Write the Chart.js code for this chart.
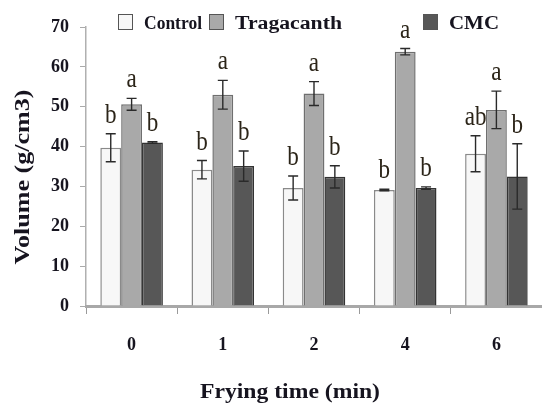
<!DOCTYPE html>
<html>
<head>
<meta charset="utf-8">
<script src="https://cdn.jsdelivr.net/npm/chart.js@4/dist/chart.umd.min.js"></script>
<style>
  html, body { margin: 0; padding: 0; background: #fff; overflow: hidden; }
  #wrap { width: 542px; height: 408px; }
</style>
</head>
<body>
<div id="wrap"><canvas id="volumeChart"></canvas></div>
<script>
// data
const fryingTimes = ['0', '1', '2', '4', '6'];
const seriesNames = ['Control', 'Tragacanth', 'CMC'];
const controlVals = [39.7, 34.2, 29.6, 29.1, 38.2];
const tragVals = [50.6, 53.0, 53.3, 63.8, 49.2];
const cmcVals = [41.0, 35.1, 32.4, 29.6, 32.5];
const controlErr = [3.5, 2.3, 3.0, 0.2, 4.5];
const tragErr = [1.5, 3.6, 3.0, 0.8, 4.7];
const cmcErr = [0.2, 3.8, 2.8, 0.3, 8.2];
const controlLetters = ['b', 'b', 'b', 'b', 'ab'];
const tragLetters = ['a', 'a', 'a', 'a', 'a'];
const cmcLetters = ['b', 'b', 'b', 'b', 'b'];
const yTicks = [0, 10, 20, 30, 40, 50, 60, 70];

const serif = '"Liberation Serif", "DejaVu Serif", serif';
const textCol = '#16141f';
const fills = ['#f7f7f7', '#a9a9a9', '#575757'];
const borders = ['#8a8a8a', '#6f6f6f', '#333333'];

const errs = [controlErr, tragErr, cmcErr];
const letters = [controlLetters, tragLetters, cmcLetters];

// draw text squeezed/stretched to a given width (the original type is wide)
function fitText(ctx, text, x, y, width, rot) {
    const w = ctx.measureText(text).width;
    ctx.save();
    ctx.translate(x, y);
    if (rot) ctx.rotate(rot);
    ctx.scale(width / w, 1);
    ctx.fillText(text, 0, 0);
    ctx.restore();
}

// error bars and significance letters
const errorBarPlugin = {
    id: 'errorBars',
    afterDatasetsDraw(chart) {
        const ctx = chart.ctx;
        const y = chart.scales.y;
        ctx.save();
        chart.data.datasets.forEach((ds, di) => {
            const meta = chart.getDatasetMeta(di);
            meta.data.forEach((bar, i) => {
                const v = ds.data[i];
                const e = errs[di][i];
                const top = y.getPixelForValue(v + e);
                const bot = y.getPixelForValue(v - e);
                ctx.strokeStyle = '#2a2a2a';
                ctx.lineWidth = 1.4;
                ctx.beginPath();
                ctx.moveTo(bar.x, top); ctx.lineTo(bar.x, bot);
                ctx.moveTo(bar.x - 5, top); ctx.lineTo(bar.x + 5, top);
                ctx.moveTo(bar.x - 5, bot); ctx.lineTo(bar.x + 5, bot);
                ctx.stroke();
                ctx.fillStyle = '#2b2418';
                ctx.font = '22px ' + serif;
                ctx.textAlign = 'center';
                ctx.textBaseline = 'alphabetic';
                ctx.save();
                ctx.translate(bar.x, top - 11);
                ctx.scale(1.05, 1.25);
                ctx.fillText(letters[di][i], 0, 0);
                ctx.restore();
            });
        });
        ctx.restore();
    }
};

// legend and axis titles laid out like the original
const textPlugin = {
    id: 'chartText',
    afterDraw(chart) {
        const ctx = chart.ctx;
        const items = [[118, 'Control', 58], [209, 'Tragacanth', 107], [423, 'CMC', 50]];
        ctx.save();
        ctx.font = 'bold 18px ' + serif;
        ctx.textBaseline = 'alphabetic';
        ctx.textAlign = 'left';
        items.forEach(([x, label, w], i) => {
            ctx.fillStyle = fills[i];
            ctx.fillRect(x, 14, 14, 15);
            ctx.strokeStyle = '#555';
            ctx.lineWidth = 1;
            ctx.strokeRect(x + 0.5, 14.5, 14, 15);
            ctx.fillStyle = textCol;
            fitText(ctx, label, x + 26, 29, w);
        });

        ctx.font = 'bold 22px ' + serif;
        ctx.textAlign = 'center';
        fitText(ctx, 'Frying time (min)', 290, 398, 180);
        fitText(ctx, 'Volume (g/cm3)', 29, 177, 175, -Math.PI / 2);
        ctx.restore();
    }
};

new Chart(document.getElementById('volumeChart'), {
    type: 'bar',
    data: {
        labels: fryingTimes,
        datasets: [controlVals, tragVals, cmcVals].map((vals, i) => ({
            label: seriesNames[i],
            data: vals,
            backgroundColor: fills[i],
            borderColor: borders[i],
            borderWidth: 1.5,
            categoryPercentage: 0.686,
            barPercentage: 1.0
        }))
    },
    options: {
        responsive: true,
        maintainAspectRatio: false,
        animation: false,
        layout: { padding: { top: 27, right: -3, left: 0, bottom: 0 } },
        plugins: {
            legend: { display: false },
            tooltip: { enabled: false }
        },
        scales: {
            y: {
                min: 0,
                max: 70,
                afterBuildTicks: (axis) => { axis.ticks = yTicks.map(v => ({ value: v })); },
                afterFit: (axis) => { axis.width = 86; },
                grid: { display: true, drawOnChartArea: false, drawTicks: true, tickLength: 6, color: '#aaa' },
                border: { color: '#b0b0b0', width: 1.5 },
                ticks: {
                    color: textCol,
                    padding: 11,
                    font: { family: serif, size: 18, weight: 'bold' }
                }
            },
            x: {
                offset: true,
                afterFit: (axis) => { axis.height = 102; },
                grid: { display: true, drawOnChartArea: false, offset: true, drawTicks: true, tickLength: 8, color: '#9a9a9a' },
                border: { color: '#a8a8a8', width: 3 },
                ticks: {
                    color: textCol,
                    padding: 21,
                    font: { family: serif, size: 18, weight: 'bold' }
                }
            }
        }
    },
    plugins: [errorBarPlugin, textPlugin]
});
</script>
</body>
</html>
